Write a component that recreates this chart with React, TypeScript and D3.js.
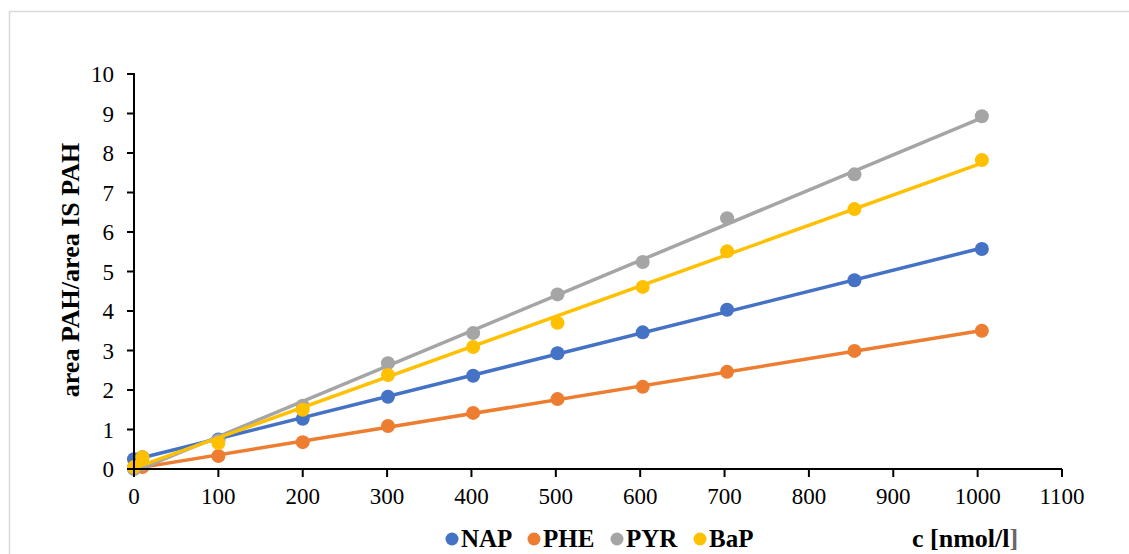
import React from 'react';
import * as d3 from 'd3';

// concentrations (nmol/l)
const conc = [0, 10, 100, 200, 301, 402, 502, 603, 703, 854, 1005];

const nap = [0.25, 0.3, 0.75, 1.27, 1.83, 2.36, 2.93, 3.46, 4.03, 4.78, 5.57];
const phe = [0.02, 0.05, 0.33, 0.68, 1.09, 1.42, 1.77, 2.08, 2.46, 2.99, 3.5];
const pyr = [0.0, 0.12, 0.72, 1.6, 2.68, 3.44, 4.42, 5.24, 6.35, 7.46, 8.93];
const bap = [0.05, 0.3, 0.66, 1.5, 2.38, 3.09, 3.7, 4.61, 5.51, 6.58, 7.82];

const seriesNames = ['NAP', 'PHE', 'PYR', 'BaP'];
const seriesValues = [nap, phe, pyr, bap];
const colors = ['#4472C4', '#ED7D31', '#A5A5A5', '#FFC000'];

const xTicks = [0, 100, 200, 300, 400, 500, 600, 700, 800, 900, 1000, 1100];
const yTicks = [0, 1, 2, 3, 4, 5, 6, 7, 8, 9, 10];

const W = 1129;
const H = 554;

// least squares trendline
function fit(xs: number[], ys: number[]) {
  const mx = d3.mean(xs)!;
  const my = d3.mean(ys)!;
  let sxy = 0, sxx = 0;
  xs.forEach((x, i) => {
    sxy += (x - mx) * (ys[i] - my);
    sxx += (x - mx) * (x - mx);
  });
  const slope = sxy / sxx;
  return { slope, intercept: my - slope * mx };
}

export default function App() {
  const x = d3.scaleLinear().domain([0, 1100]).range([134, 1062]);
  const y = d3.scaleLinear().domain([0, 10]).range([469, 74]);
  const font = '"Liberation Serif", "Times New Roman", serif';
  const xExt = d3.extent(conc) as [number, number];

  const legendX = [452, 534, 617, 700];

  return (
    <svg width={W} height={H} style={{ position: 'absolute', left: 0, top: 0 }} fontFamily={font}>
      <rect x={0} y={0} width={W} height={H} fill="#fff" />
      <rect x={9.5} y={11.5} width={W + 20} height={H + 20} fill="none" stroke="#d9d9d9" strokeWidth={1.5} />

      {/* trendlines and markers */}
      {seriesValues.map((vals, si) => {
        const { slope, intercept } = fit(conc, vals);
        return (
          <g key={seriesNames[si]}>
            <line
              x1={x(xExt[0])}
              y1={y(intercept + slope * xExt[0])}
              x2={x(xExt[1])}
              y2={y(intercept + slope * xExt[1])}
              stroke={colors[si]}
              strokeWidth={3.5}
            />
            {vals.map((v, i) => (
              <circle key={i} cx={x(conc[i])} cy={y(v)} r={7} fill={colors[si]} />
            ))}
          </g>
        );
      })}

      {/* axes */}
      <g stroke="#000" strokeWidth={2} fill="none">
        <line x1={x(0)} y1={y(10) - 1} x2={x(0)} y2={y(0)} />
        <line x1={x(0)} y1={y(0)} x2={x(1100)} y2={y(0)} />
        {yTicks.map(t => (
          <line key={'yt' + t} x1={x(0) - 7} x2={x(0)} y1={y(t)} y2={y(t)} />
        ))}
        {xTicks.map(t => (
          <line key={'xt' + t} x1={x(t)} x2={x(t)} y1={y(0)} y2={y(0) + 8} />
        ))}
      </g>
      <g fontSize={23} fill="#000">
        {yTicks.map(t => (
          <text key={'yl' + t} x={x(0) - 20} y={y(t)} dy="0.35em" textAnchor="end">{t}</text>
        ))}
        {xTicks.map(t => (
          <text key={'xl' + t} x={x(t)} y={y(0) + 35} textAnchor="middle">{t}</text>
        ))}
      </g>

      <text
        transform={`translate(79,270) rotate(-90)`}
        textAnchor="middle"
        fontWeight="bold"
        fontSize={26}
      >
        area PAH/area IS PAH
      </text>

      {/* legend */}
      {seriesNames.map((n, i) => (
        <g key={'lg' + n}>
          <circle cx={legendX[i]} cy={539} r={6.5} fill={colors[i]} />
          <text x={legendX[i] + 9} y={547} fontWeight="bold" fontSize={25}>{n}</text>
        </g>
      ))}
      <text x={912} y={547} fontWeight="bold" fontSize={26}>
        c [nmol/l<tspan fill="#666">]</tspan>
      </text>
    </svg>
  );
}
